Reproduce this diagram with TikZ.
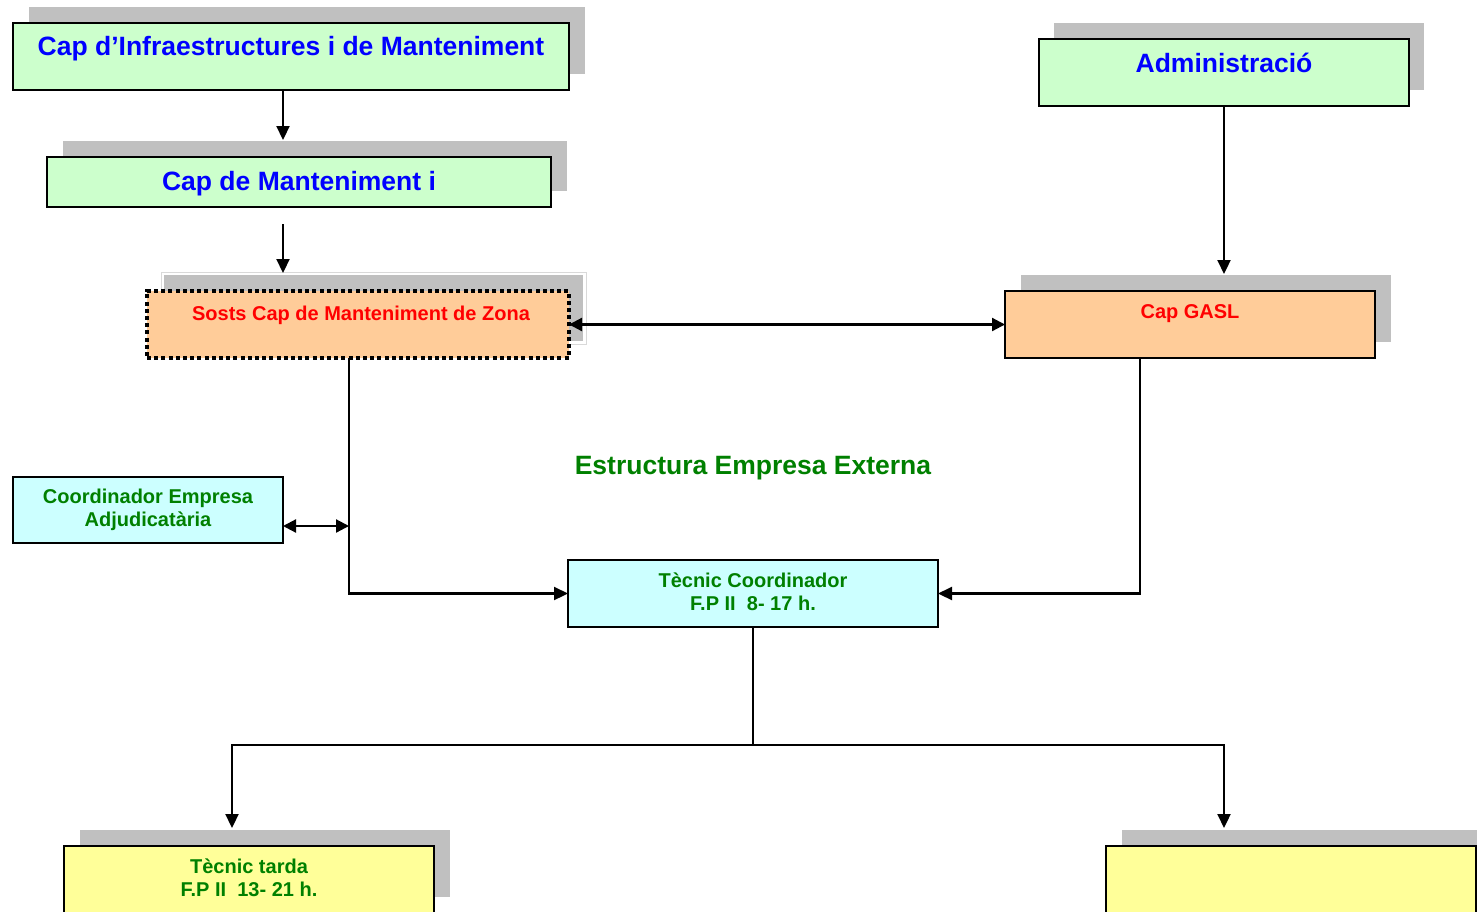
\documentclass[tikz,border=0pt]{standalone}
\usepackage{fontspec}
\setmainfont{Liberation Sans}
\usetikzlibrary{arrows.meta,backgrounds}
\definecolor{greenbox}{HTML}{CCFFCC}
\definecolor{orangebox}{HTML}{FFCC99}
\definecolor{cyanbox}{HTML}{CCFFFF}
\definecolor{yellowbox}{HTML}{FFFF99}
\definecolor{shadowc}{HTML}{C0C0C0}
\definecolor{bluetext}{HTML}{0000FF}
\definecolor{redtext}{HTML}{FF0000}
\definecolor{greentext}{HTML}{008000}
\tikzset{
  box/.style={draw=black, line width=2pt, inner sep=0pt, outer sep=0pt},
  dotbox/.style={draw=black, line width=4pt, dash pattern=on 4pt off 3.2pt, inner sep=0pt, outer sep=0pt},
  bigtxt/.style={font=\fontsize{26.5}{30}\selectfont\bfseries, anchor=base, inner sep=0pt},
  smalltxt/.style={font=\fontsize{20}{23}\selectfont\bfseries, anchor=base, inner sep=0pt, align=center},
  conn/.style={line width=2.2pt},
  arr/.style={conn, -{Triangle[length=14pt,width=13pt]}},
  arrtwo/.style={conn, {Triangle[length=13pt,width=13pt]}-{Triangle[length=13pt,width=13pt]}},
  shadowbox/.style={fill=shadowc}
}
\begin{document}
\begin{tikzpicture}[x=1pt,y=-1pt]
\useasboundingbox (0,0) rectangle (1477,911);
\clip (0,0) rectangle (1477,911);
% boxes
\node[box, fill=greenbox, minimum width=556pt, minimum height=67pt] (b1) at (291,56.5) {};
\node[box, fill=greenbox, minimum width=504pt, minimum height=50pt] (b2) at (299,182) {};
\node[dotbox, fill=orangebox, minimum width=422pt, minimum height=67pt] (b3) at (358,324.5) {};
\node[box, fill=greenbox, minimum width=370pt, minimum height=67pt] (adm) at (1224,72.5) {};
\node[box, fill=orangebox, minimum width=370pt, minimum height=67pt] (gasl) at (1190,324.5) {};
\node[box, fill=cyanbox, minimum width=270pt, minimum height=66pt] (coord) at (148,510) {};
\node[box, fill=cyanbox, minimum width=370pt, minimum height=67pt] (tec) at (753,593.5) {};
\node[box, fill=yellowbox, minimum width=370pt, minimum height=67pt] (tarda) at (249,879.5) {};
\node[box, fill=yellowbox, minimum width=370pt, minimum height=67pt] (rbox) at (1291,879.5) {};
% shadows
\begin{pgfonlayer}{background}
\fill[shadowbox] ([shift={(16,-16)}]b1.south west) rectangle ([shift={(16,-16)}]b1.north east);
\fill[shadowbox] ([shift={(16,-16)}]b2.south west) rectangle ([shift={(16,-16)}]b2.north east);
\draw[draw=shadowc!60, line width=1pt] (161,272) rectangle (586,344);
\filldraw[fill=shadowc, draw=white, line width=1.5pt] (163,274) rectangle (584,342);
\fill[shadowbox] ([shift={(15,-16)}]adm.south west) rectangle ([shift={(15,-16)}]adm.north east);
\fill[shadowbox] ([shift={(16,-16)}]gasl.south west) rectangle ([shift={(16,-16)}]gasl.north east);
\fill[shadowbox] ([shift={(16,-16)}]tarda.south west) rectangle ([shift={(16,-16)}]tarda.north east);
\fill[shadowbox] ([shift={(16,-16)}]rbox.south west) rectangle ([shift={(16,-16)}]rbox.north east);
\end{pgfonlayer}
% texts
\node[bigtxt, text=bluetext] (t1) at (291,55) {Cap d’Infraestructures i de Manteniment};
\node[bigtxt, text=bluetext] (t2) at (299,190) {Cap de Manteniment i};
\node[bigtxt, text=bluetext] (t3) at (1224,72) {Administració};
\node[smalltxt, text=redtext] (t4) at (361,320) {Sosts Cap de Manteniment de Zona};
\node[smalltxt, text=redtext] (t5) at (1190,318) {Cap GASL};
\node[bigtxt, text=greentext] (t6) at (753,474) {Estructura Empresa Externa};
\node[smalltxt, text=greentext] (t7) at (148,526) {Coordinador Empresa\\Adjudicatària};
\node[smalltxt, text=greentext] (t8) at (753,610) {Tècnic Coordinador\\F.P II\ \ 8- 17 h.};
\node[smalltxt, text=greentext] (t9) at (249,896) {Tècnic tarda\\F.P II\ \ 13- 21 h.};
% connector coordinates
\coordinate (a1t) at (283,140);
\coordinate (a2s) at (283,224);
\coordinate (a2t) at (283,273);
\coordinate (a4t) at (1224,274);
\coordinate (v1) at (349,0);
\coordinate (v1m) at (349,526);
\coordinate (v2) at (1140,0);
\coordinate (jn) at (753,745);
\coordinate (ta) at (232,828);
\coordinate (rt) at (1224,828);
% connectors
\draw[arr] (b1.south -| a1t) -- (a1t);
\draw[arr] (a2s) -- (a2t);
\draw[arrtwo] (b3.east) -- (gasl.west);
\draw[arr] (adm.south) -- (a4t);
\draw[arr] (b3.south -| v1) |- (tec.west);
\draw[arrtwo] (coord.east |- v1m) -- (v1m);
\draw[arr] (gasl.south -| v2) |- (tec.east);
\draw[conn] (tec.south) -- (jn);
\draw[arr] (jn) -| (ta);
\draw[arr] (jn) -| (rt);
\end{tikzpicture}
\end{document}
